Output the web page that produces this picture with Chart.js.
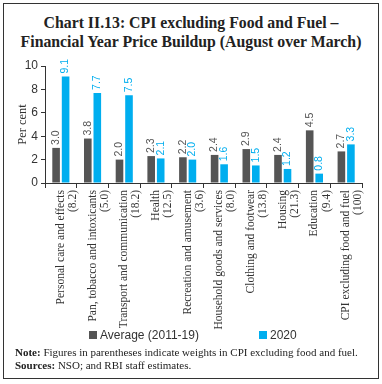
<!DOCTYPE html>
<html lang="en">
<head>
  <meta charset="UTF-8">
  <title>Chart II.13</title>
  <style>
    body { margin: 0; background: #fff; }
    #frame { position: absolute; left: 3px; top: 3px; width: 374px; height: 374px; border: 1px solid #333; }
    #title { position: absolute; left: 0; top: 13px; width: 382px; text-align: center; font: bold 15.8px "Liberation Serif", serif; line-height: 19px; color: #222; }
    #c { position: absolute; left: 0; top: 50px; }
    .leg { position: absolute; top: 328px; font: 12px "Liberation Sans", sans-serif; color: #333; }
    .leg i { display: inline-block; width: 8px; height: 8px; margin-right: 3px; vertical-align: 0px; }
    #notes { position: absolute; left: 15px; top: 346px; font: 11px "Liberation Serif", serif; line-height: 12.5px; color: #222; }
  </style>
</head>
<body>
  <div id="frame"></div>
  <div id="title">Chart II.13: CPI excluding Food and Fuel –<br>Financial Year Price Buildup (August over March)</div>
  <canvas id="c" width="382" height="280"></canvas>
  <div class="leg" style="left:89px"><i style="background:#555"></i>Average (2011-19)</div>
  <div class="leg" style="left:259px"><i style="background:#00aeef"></i>2020</div>
  <div id="notes"><b>Note:</b> Figures in parentheses indicate weights in CPI excluding food and fuel.<br><b>Sources:</b> NSO; and RBI staff estimates.</div>

  <script src="https://cdn.jsdelivr.net/npm/chart.js"></script>
  <script>
    const categories = ['Personal care and effects', 'Pan, tobacco and intoxicants', 'Transport and communication',
      'Health', 'Recreation and amusement', 'Household goods and services', 'Clothing and footwear',
      'Housing', 'Education', 'CPI excluding food and fuel'];
    const weights = ['(8.2)', '(5.0)', '(18.2)', '(12.5)', '(3.6)', '(8.0)', '(13.8)', '(21.3)', '(9.4)', '(100)'];
    const average = [3.0, 3.8, 2.0, 2.3, 2.2, 2.4, 2.9, 2.4, 4.5, 2.7];
    const y2020 = [9.1, 7.7, 7.5, 2.1, 2.0, 1.6, 1.5, 1.2, 0.8, 3.3];
    const yTicks = [0, 2, 4, 6, 8, 10];

    // value labels, rotated, just above each bar
    const barLabels = {
      id: 'barLabels',
      afterDatasetsDraw(chart) {
        const ctx = chart.ctx;
        chart.data.datasets.forEach((ds, i) => {
          chart.getDatasetMeta(i).data.forEach((bar, j) => {
            ctx.save();
            ctx.translate(bar.x, bar.y - 3);
            ctx.rotate(-Math.PI / 2);
            ctx.font = '10.5px "Liberation Sans", sans-serif';
            ctx.fillStyle = ds.labelColor;
            ctx.textAlign = 'left';
            ctx.textBaseline = 'middle';
            ctx.fillText(ds.data[j].toFixed(1), 0, 0);
            ctx.restore();
          });
        });
      }
    };

    new Chart(document.getElementById('c'), {
      type: 'bar',
      data: {
        labels: categories.map((c, i) => [c, weights[i]]),
        datasets: [
          { label: 'Average (2011-19)', data: average, backgroundColor: '#555555', labelColor: '#555555' },
          { label: '2020', data: y2020, backgroundColor: '#00aeef', labelColor: '#00aeef' }
        ]
      },
      options: {
        responsive: false,
        animation: false,
        layout: { padding: { top: 16, right: 20, left: 0, bottom: 0 } },
        plugins: { legend: { display: false }, tooltip: { enabled: false } },
        datasets: { bar: { categoryPercentage: 0.6, barPercentage: 0.8 } },
        scales: {
          x: {
            afterFit: s => { s.height = 147; },
            grid: { drawOnChartArea: false, tickLength: 5, color: '#333' },
            border: { color: '#333' },
            ticks: {
              autoSkip: false, maxRotation: 90, minRotation: 90, padding: 2,
              color: '#333', font: { family: '"Liberation Serif", serif', size: 11.5, lineHeight: 1.05 }
            }
          },
          y: {
            min: 0, max: 10,
            afterFit: s => { s.width = 45; },
            afterBuildTicks: s => { s.ticks = yTicks.map(v => ({ value: v })); },
            grid: { drawOnChartArea: false, tickLength: 4, color: '#333' },
            border: { color: '#333' },
            ticks: { color: '#333', padding: 3, font: { family: '"Liberation Sans", sans-serif', size: 12 } },
            title: { display: true, text: 'Per cent', color: '#333', padding: { top: 15, bottom: 0 },
              font: { family: '"Liberation Serif", serif', size: 12.5 } }
          }
        }
      },
      plugins: [barLabels]
    });
  </script>
</body>
</html>
